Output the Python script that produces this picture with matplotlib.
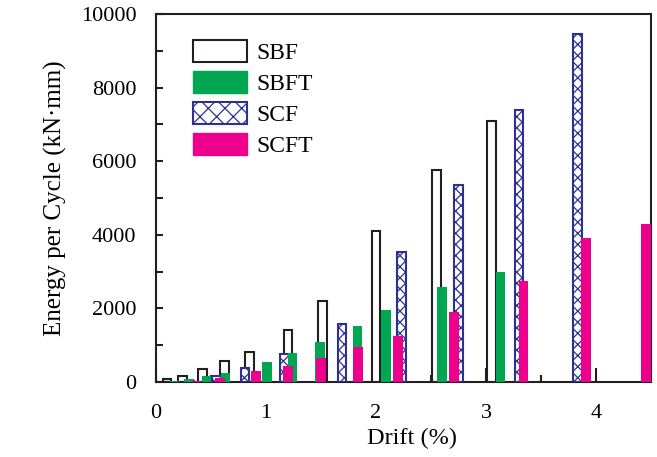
import numpy as np
import matplotlib
matplotlib.use("Agg")
import matplotlib.pyplot as plt
from matplotlib import font_manager
from matplotlib.patches import Patch
from matplotlib.ticker import MultipleLocator

# Times-like font: register Liberation Serif if it is on the system, else STIX
for path in font_manager.findSystemFonts():
    if 'liberationserif' in path.lower().replace('-', '').replace('_', ''):
        font_manager.fontManager.addfont(path)
plt.rcParams['font.family'] = ['Liberation Serif', 'STIXGeneral', 'DejaVu Serif']
plt.rcParams['hatch.linewidth'] = 0.9

# energy dissipated per cycle for each specimen
sbf_drift = [0.10, 0.24, 0.42, 0.62, 0.85, 1.20, 1.51, 2.00, 2.55, 3.05]
sbf_energy = [70, 170, 340, 570, 820, 1400, 2190, 4110, 5750, 7080]

sbft_drift = [0.17, 0.30, 0.46, 0.63, 1.01, 1.24, 1.49, 1.83, 2.09, 2.60, 3.13]
sbft_energy = [30, 80, 160, 250, 550, 790, 1090, 1530, 1960, 2570, 3000]

scf_drift = [0.31, 0.55, 0.81, 1.17, 1.69, 2.23, 2.75, 3.30, 3.83]
scf_energy = [40, 160, 380, 760, 1580, 3540, 5350, 7380, 9450]

scft_drift = [0.36, 0.58, 0.91, 1.20, 1.50, 1.84, 2.20, 2.71, 3.34, 3.91, 4.45]
scft_energy = [30, 120, 300, 440, 660, 950, 1260, 1910, 2750, 3900, 4300]

black = '#231f20'
green = '#00a651'
blue = '#2e3192'
pink = '#ec008c'

fig = plt.figure(figsize=(6.57, 4.57), dpi=100)
ax = fig.add_axes([0.2374, 0.1641, 0.7536, 0.8053])

ax.bar(sbf_drift, sbf_energy, width=0.08, facecolor='white', edgecolor=black, lw=1.5, zorder=2)
ax.bar(scf_drift, scf_energy, width=0.08, facecolor='white', edgecolor=blue, lw=1.5,
       hatch='xxx', zorder=3)
ax.bar(sbft_drift, sbft_energy, width=0.085, color=green, lw=0, zorder=4)
ax.bar(scft_drift, scft_energy, width=0.09, color=pink, lw=0, zorder=5)

ax.set_xlim(0, 4.5)
ax.set_ylim(0, 10000)
ax.xaxis.set_major_locator(MultipleLocator(1))
ax.xaxis.set_minor_locator(MultipleLocator(0.5))
ax.yaxis.set_major_locator(MultipleLocator(2000))
ax.yaxis.set_minor_locator(MultipleLocator(1000))

ax.tick_params(axis='x', which='major', direction='in', length=10, width=1.5,
               color=black, labelsize=16, pad=16)
ax.tick_params(axis='x', which='minor', direction='in', length=5, width=1.5, color=black)
ax.tick_params(axis='y', which='both', direction='in', length=5, width=1.5,
               color=black, labelsize=16, pad=14)
for s in ax.spines.values():
    s.set_linewidth(1.5)
    s.set_color(black)

ax.set_xlabel('Drift (%)', fontsize=17.5)
ax.xaxis.set_label_coords(0.517, -0.125)
ax.set_ylabel('Energy per Cycle (kN\u00b7mm)', fontsize=18, labelpad=10)

handles = [
    Patch(facecolor='white', edgecolor=black, lw=1.5, label='SBF'),
    Patch(facecolor=green, edgecolor=green, label='SBFT'),
    Patch(facecolor='white', edgecolor=blue, lw=1.5, hatch='xx', label='SCF'),
    Patch(facecolor=pink, edgecolor=pink, label='SCFT'),
]
ax.legend(handles=handles, loc='upper left', bbox_to_anchor=(0.075, 0.93),
          frameon=False, fontsize=17, borderpad=0, borderaxespad=0,
          handlelength=2.3, handleheight=1.05, labelspacing=0.3, handletextpad=0.4)

fig.savefig('out.png', dpi=100)
